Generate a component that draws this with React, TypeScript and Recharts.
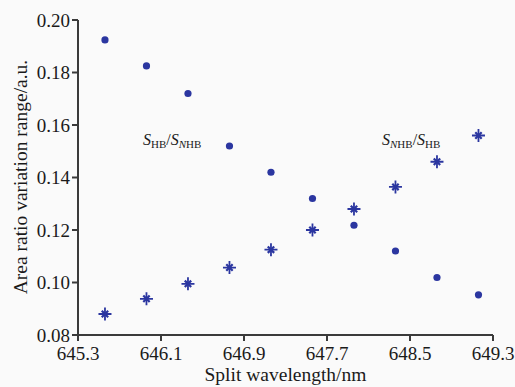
import React from 'react';
import { ScatterChart, Scatter, XAxis, YAxis } from 'recharts';

// split wavelengths (nm)
const wavelengths = [645.56, 645.96, 646.36, 646.76, 647.16, 647.56, 647.96, 648.36, 648.76, 649.16];
// S_HB / S_NHB
const hbRatio = [0.1924, 0.1825, 0.172, 0.152, 0.142, 0.132, 0.1218, 0.112, 0.1019, 0.0953];
// S_NHB / S_HB
const nhbRatio = [0.088, 0.0938, 0.0995, 0.1057, 0.1125, 0.12, 0.128, 0.1364, 0.146, 0.156];

const xTicks = [645.3, 646.1, 646.9, 647.7, 648.5, 649.3];
const yTicks = [0.08, 0.1, 0.12, 0.14, 0.16, 0.18, 0.2];

const hbData = wavelengths.map((x, i) => ({ x, y: hbRatio[i] }));
const nhbData = wavelengths.map((x, i) => ({ x, y: nhbRatio[i] }));

const BLUE = '#2b36a0';
const AXIS = '#3a3a3a';
const FONT = '"Liberation Serif", "Times New Roman", serif';

const Dot = (props: any) => <circle cx={props.cx} cy={props.cy} r={3.6} fill={BLUE} />;

const Star = (props: any) => {
  const { cx, cy } = props;
  const plus = `M${cx} ${cy - 6.5}V${cy + 6.5}M${cx - 6.5} ${cy}H${cx + 6.5}`;
  const cross = `M${cx - 3.2} ${cy - 3.2}L${cx + 3.2} ${cy + 3.2}M${cx - 3.2} ${cy + 3.2}L${cx + 3.2} ${cy - 3.2}`;
  return (
    <g>
      <path d={plus} stroke={BLUE} strokeWidth={1.8} fill="none" />
      <path d={cross} stroke={BLUE} strokeWidth={2.2} fill="none" />
    </g>
  );
};

const tick = { fill: '#1a1a1a', fontSize: 19, style: { fontFamily: FONT } };

export default function App() {
  return (
    <div style={{ position: 'absolute', left: 0, top: 0, width: 515, height: 387, background: '#fafafa', fontFamily: FONT }}>
      <ScatterChart width={515} height={387} margin={{ top: 20, right: 22, bottom: 0, left: 0 }} style={{ fontFamily: FONT }}>
        <XAxis
          type="number"
          dataKey="x"
          domain={[645.3, 649.3]}
          ticks={xTicks}
          tickFormatter={(v: number) => v.toFixed(1)}
          interval={0}
          height={52}
          tick={tick}
          tickSize={6}
          tickMargin={6}
          stroke={AXIS}
          strokeWidth={2}
          label={{ value: 'Split wavelength/nm', position: 'insideBottom', offset: 6, fill: '#1a1a1a', fontSize: 19.5, style: { fontFamily: FONT } }}
        />
        <YAxis
          type="number"
          dataKey="y"
          domain={[0.08, 0.2]}
          ticks={yTicks}
          tickFormatter={(v: number) => v.toFixed(2)}
          interval={0}
          width={78}
          tick={tick}
          tickSize={6}
          tickMargin={2}
          stroke={AXIS}
          strokeWidth={2}
        />
        <Scatter data={hbData} shape={Dot} isAnimationActive={false} />
        <Scatter data={nhbData} shape={Star} isAnimationActive={false} />
        <text transform="rotate(-90)" x={-177} y={27} textAnchor="middle" fill="#1a1a1a" fontSize={19.5} style={{ fontFamily: FONT }}>
          Area ratio variation range/a.u.
        </text>
        <text x={143} y={145} fill="#1a1a1a" fontSize={16} style={{ fontFamily: FONT }}>
          <tspan fontStyle="italic">S</tspan>
          <tspan fontSize={11} dy={3}>HB</tspan>
          <tspan dy={-3}>/</tspan>
          <tspan fontStyle="italic">S</tspan>
          <tspan fontSize={11} dy={3} fontStyle="italic">N</tspan>
          <tspan fontSize={11}>HB</tspan>
        </text>
        <text x={382} y={145} fill="#1a1a1a" fontSize={16} style={{ fontFamily: FONT }}>
          <tspan fontStyle="italic">S</tspan>
          <tspan fontSize={11} dy={3} fontStyle="italic">N</tspan>
          <tspan fontSize={11}>HB</tspan>
          <tspan dy={-3}>/</tspan>
          <tspan fontStyle="italic">S</tspan>
          <tspan fontSize={11} dy={3}>HB</tspan>
        </text>
      </ScatterChart>
    </div>
  );
}
